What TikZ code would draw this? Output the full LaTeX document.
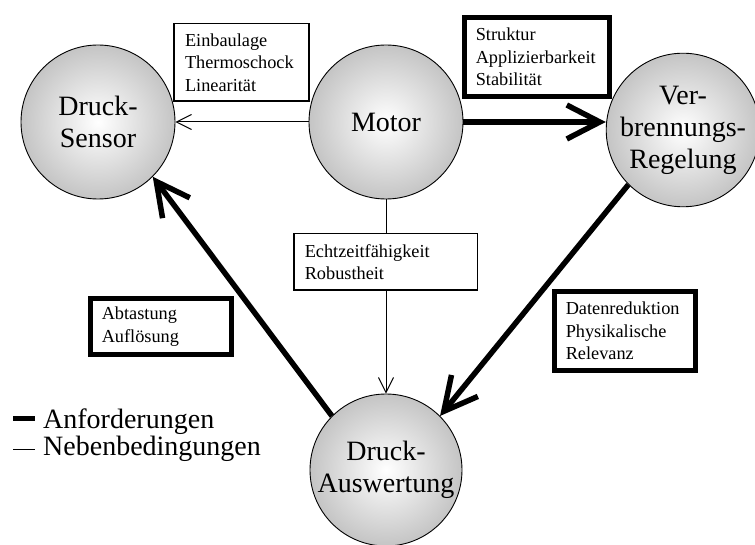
\documentclass[tikz,border=0pt]{standalone}
\usepackage{fontspec}
\setmainfont{Liberation Serif}
\usetikzlibrary{arrows.meta,calc}

\tikzset{
  stage/.style={circle, draw=black, line width=0.9pt,
    inner color=white, outer color=black!23,
    minimum size=#1, inner sep=0pt, align=center,
    font=\fontsize{28}{32}\selectfont},
  note/.style={draw=black, fill=white, align=left, inner xsep=11pt,
    inner ysep=0pt, font=\fontsize{18.3}{22.5}\selectfont},
  thinnote/.style={note, line width=1.5pt},
  thicknote/.style={note, line width=4.6pt},
  need/.style={line width=5.5pt, -{Straight Barb[length=33pt,width=34pt]}},
  cond/.style={line width=1pt, -{Straight Barb[length=15pt,width=15pt]}},
  legend/.style={anchor=base west, inner sep=0pt, font=\fontsize{28}{32}\selectfont}
}

\begin{document}
\begin{tikzpicture}[x=1pt, y=-1pt]
  \useasboundingbox (0,0) rectangle (755,545);

  % processing stages
  \node[stage=154pt] (sensor) at (98,122)  {Druck-\\Sensor};
  \node[stage=154pt] (motor)  at (386,122) {Motor};
  \node[stage=142pt] (verb)   at (683,130) {Ver-\\brennungs-\\Regelung};
  \node[stage=152pt] (ausw)   at (386,470) {Druck-\\Auswertung};

  % links between stages
  \draw[cond] (motor.west) -- (sensor.east);
  \draw[need] (motor.east) -- (motor.east -| verb.west);
  \draw[cond] (motor.south) -- (ausw.north);
  \draw[need] (verb.225) -- (ausw.45);
  \draw[need] (ausw.135) -- (sensor.-45);

  % labels of the links
  \node[thinnote, text width=113pt, minimum height=77.5pt] (n1) at (241.5,62.5)
    {Einbaulage\\Thermoschock\\Linearität};
  \node[thicknote, text width=122.5pt, minimum height=79.5pt] (n2) at (537,57)
    {Struktur\\Applizierbarkeit\\Stabilität};
  \node[thinnote, text width=161.5pt, minimum height=56.5pt] (n3) at (385.5,262)
    {Echtzeitfähigkeit\\Robustheit};
  \node[thicknote, text width=118.5pt, minimum height=56.5pt] (n4) at (161,326.5)
    {Abtastung\\Auflösung};
  \node[thicknote, text width=118.5pt, minimum height=79.5pt] (n5) at (625,331)
    {Datenreduktion\\Physikalische\\Relevanz};

  % legend
  \node[legend] (lgA) at (43,428) {Anforderungen};
  \node[legend] (lgB) at (43,455) {Nebenbedingungen};
  \draw[line width=5pt] ($(lgA.base west)+(-30,-10)$) -- ++(22,0);
  \draw[line width=1pt] ($(lgB.base west)+(-30,-6)$) -- ++(22,0);
\end{tikzpicture}
\end{document}
